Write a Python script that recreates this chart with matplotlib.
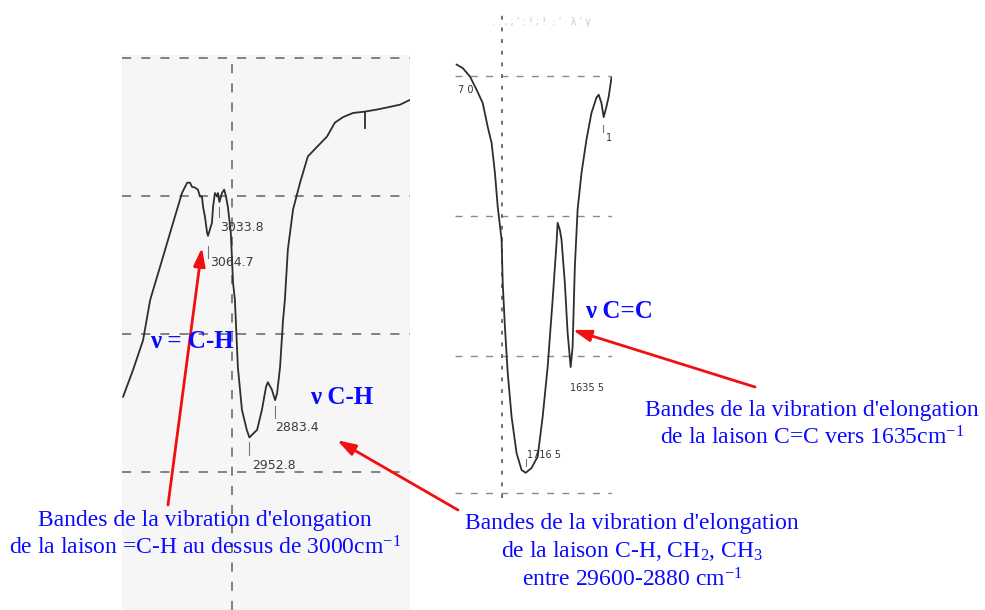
import matplotlib.pyplot as plt

plt.rcParams['mathtext.fontset'] = 'custom'
plt.rcParams['mathtext.rm'] = 'Liberation Serif'
plt.rcParams['mathtext.it'] = 'Liberation Serif:italic'
plt.rcParams['mathtext.bf'] = 'Liberation Serif:bold'

# Spectre 1 : zone 3300-2520 cm-1 (nombre d'onde, transmittance %)
wn_ch = [3294, 3267, 3240, 3221, 3186, 3159, 3135, 3121, 3113, 3108, 3100, 3092,
         3086, 3081, 3078, 3073, 3067, 3064.7, 3054, 3051, 3046, 3040, 3038, 3033.8,
         3027, 3021, 3016, 3011, 3003, 2997, 2992, 2984, 2973, 2960, 2952.8, 2932,
         2919, 2908, 2903, 2892, 2883.4, 2878, 2870, 2862, 2857, 2849, 2835, 2816,
         2795, 2770, 2743, 2722, 2700, 2673, 2641, 2608, 2581, 2546, 2519]
t_ch = [30.9, 34.8, 39.1, 44.9, 51.2, 56.1, 60.4, 61.9, 61.9, 61.3, 61.2, 60.9,
        59.9, 59.9, 58.4, 57.0, 54.6, 54.2, 56.1, 58.4, 60.4, 59.9, 60.4, 59.1,
        60.4, 60.9, 59.9, 58.4, 54.6, 47.4, 44.9, 35.2, 29.0, 26.1, 25.0, 26.1,
        29.0, 32.3, 33.0, 31.9, 30.4, 31.4, 35.2, 42.0, 44.9, 52.2, 58.0, 61.9,
        65.7, 67.1, 68.6, 70.6, 71.4, 72.0, 72.2, 72.5, 72.8, 73.2, 73.9]

# Spectre 2 : zone 1845-1560 cm-1
wn_cc = [1841, 1830, 1817, 1805, 1794, 1785, 1778, 1772, 1767, 1760, 1758, 1754,
         1749, 1742, 1733, 1724, 1716.5, 1706, 1695, 1686, 1677, 1668, 1661, 1659,
         1655, 1652, 1646, 1641, 1635.5, 1632, 1628, 1623, 1616, 1607, 1598, 1589,
         1585, 1580, 1576, 1571, 1567, 1562]
t_cc = [71.6, 71.1, 69.9, 68.0, 66.1, 62.7, 60.4, 56.1, 51.3, 46.6, 40.4, 34.1,
        27.6, 21.3, 16.1, 13.7, 13.3, 14.0, 15.6, 21.3, 28.4, 38.0, 46.1, 49.0,
        48.0, 46.6, 40.4, 33.3, 28.4, 31.3, 42.7, 50.9, 56.1, 60.9, 64.7, 66.9,
        67.3, 66.1, 64.1, 65.6, 67.0, 69.7]

fig = plt.figure(figsize=(9.85, 6.1), dpi=100)
fig.patch.set_facecolor('white')

grid_kw = dict(color='#6e6e6e', lw=1.2, ls=(0, (5.5, 6)), zorder=1)
curve_kw = dict(color='#2e2e2e', lw=1.3, zorder=3)
small_kw = dict(fontsize=9, color='#3a3a3a', family='DejaVu Sans')

# --- panneau gauche
ax1 = fig.add_axes([122 / 985, 0, 288 / 985, 555 / 610])
ax1.set_xlim(3297, 2519)
ax1.set_ylim(0, 80.4)
for t in [80, 60, 40, 20]:
    ax1.axhline(t, **grid_kw)
ax1.axvline(3000, **grid_kw)
ax1.plot(wn_ch, t_ch, **curve_kw)
ax1.plot([2641, 2641], [72.2, 69.8], **curve_kw)
ax1.plot([3033.8, 3033.8], [58.4, 57.0], color='#777', lw=0.8)
ax1.plot([3064.7, 3064.7], [52.8, 51.0], color='#777', lw=0.8)
ax1.plot([2952.8, 2952.8], [24.4, 22.4], color='#777', lw=0.8)
ax1.plot([2883.4, 2883.4], [29.5, 27.8], color='#777', lw=0.8)
ax1.text(3033, 55.4, '3033.8', va='center', **small_kw)
ax1.text(3060, 50.3, '3064.7', va='center', **small_kw)
ax1.text(2946, 21.0, '2952.8', va='center', **small_kw)
ax1.text(2884, 26.4, '2883.4', va='center', **small_kw)
ax1.axis('off')
ax1.add_patch(plt.Rectangle((0, 0), 1, 1, transform=ax1.transAxes,
                            facecolor='#f6f6f6', edgecolor='none', zorder=0))

# --- panneau droit
ax2 = fig.add_axes([455 / 985, 112 / 610, 157 / 985, 488 / 610])
ax2.set_xlim(1844, 1561)
ax2.set_ylim(9.7, 79.4)
for t in [70, 50, 30, 10.4]:
    ax2.axhline(t, color='#8a8a8a', lw=1.0, ls=(0, (5, 6)), zorder=1)
ax2.axvline(1760, color='#6e6e6e', lw=1.4, ls=(0, (2, 4)), zorder=1)
ax2.plot(wn_cc, t_cc, **curve_kw)
ax2.plot([1716.5, 1716.5], [15.2, 14.2], color='#777', lw=0.8)
ax2.plot([1578, 1578], [63.0, 62.0], color='#777', lw=0.8)
ax2.text(1839, 68.0, '7 0', va='center', fontsize=7, color='#333', family='DejaVu Sans')
ax2.text(1637, 25.4, '1635 5', va='center', fontsize=7, color='#333', family='DejaVu Sans')
ax2.text(1715, 15.9, '1716 5', va='center', fontsize=7, color='#333', family='DejaVu Sans')
ax2.text(1572, 61.1, '15', va='center', fontsize=7, color='#333', family='DejaVu Sans',
         clip_on=True)
ax2.text(0.55, 0.975, ". . , ; ' : ! ; !  : '   λ ' γ", transform=ax2.transAxes,
         ha='center', va='center', fontsize=7, color='#c8c8c8', family='DejaVu Sans')
ax2.axis('off')

# --- étiquettes bleues
blue = '#0a0aff'
lab_kw = dict(fontsize=18, fontweight='bold', color=blue, family='Liberation Serif',
              va='center', ha='left')
fig.text(150 / 985, 1 - 341 / 610, 'ν = C-H', **lab_kw)
fig.text(310 / 985, 1 - 397 / 610, 'ν C-H', **lab_kw)
fig.text(585 / 985, 1 - 312 / 610, 'ν C=C', **lab_kw)

txt_kw = dict(fontsize=17, color=blue, family='Liberation Serif',
              ha='center', va='center', linespacing=1.28)
fig.text(205 / 985, 1 - 535 / 610,
         "Bandes de la vibration d'elongation\nde la laison =C-H au dessus de 3000cm$^{\\mathrm{-1}}$",
         **txt_kw)
fig.text(632 / 985, 1 - 552 / 610,
         "Bandes de la vibration d'elongation\nde la laison C-H, CH$_{\\mathrm{2}}$, CH$_{\\mathrm{3}}$\n"
         "entre 29600-2880 cm$^{\\mathrm{-1}}$",
         **txt_kw)
fig.text(812 / 985, 1 - 425 / 610,
         "Bandes de la vibration d'elongation\nde la laison C=C vers 1635cm$^{\\mathrm{-1}}$",
         **txt_kw)

# --- flèches rouges
arr = dict(arrowstyle='-|>,head_length=1.1,head_width=0.35', color='#f01010', lw=2,
           shrinkA=0, shrinkB=0)
ax1.annotate('', xy=(3081, 52.5), xycoords='data', xytext=(168 / 985, 1 - 505 / 610),
             textcoords='figure fraction', arrowprops=arr, annotation_clip=False)
ax1.annotate('', xy=(2716, 24.6), xycoords='data', xytext=(458 / 985, 1 - 510 / 610),
             textcoords='figure fraction', arrowprops=arr, annotation_clip=False)
ax2.annotate('', xy=(1632, 33.7), xycoords='data', xytext=(755 / 985, 1 - 387 / 610),
             textcoords='figure fraction', arrowprops=arr, annotation_clip=False)

plt.savefig('out.png', dpi=100)
